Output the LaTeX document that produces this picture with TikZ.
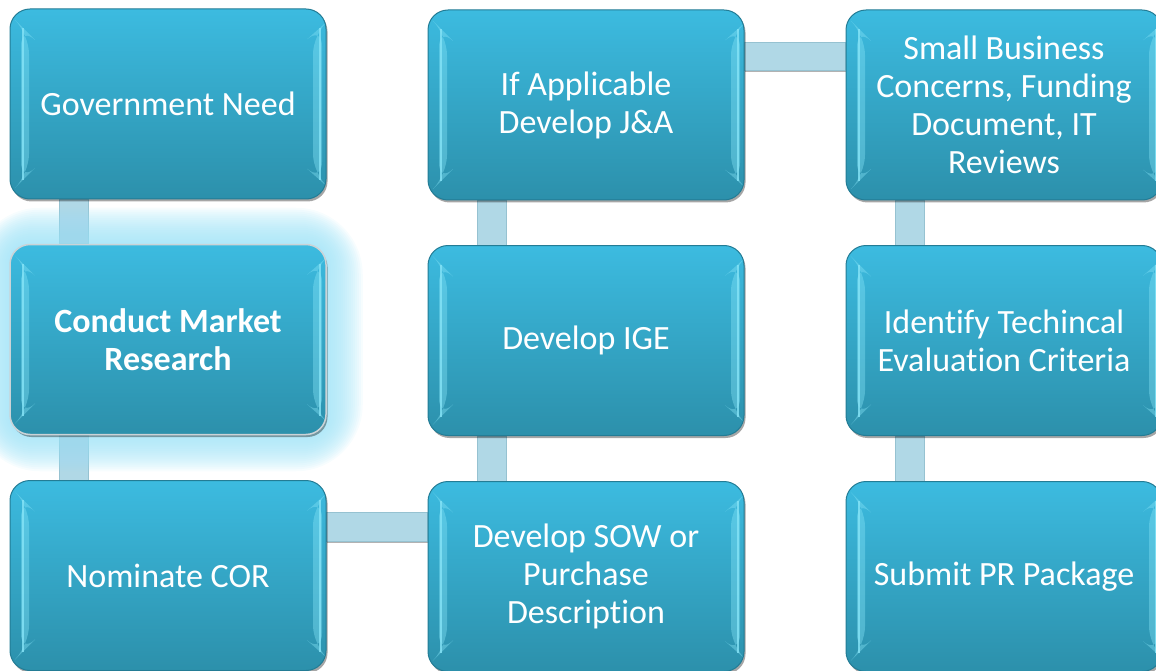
\documentclass[tikz,border=0pt]{standalone}
\usepackage{fontspec}
\setmainfont[Ligatures=NoCommon]{Carlito}
\usetikzlibrary{shadows,calc,backgrounds}
\pgfdeclarelayer{glowlayer}
\pgfsetlayers{background,glowlayer,main}
\definecolor{boxtop}{HTML}{3CBBE0}
\definecolor{boxbot}{HTML}{2C90AB}
\definecolor{boxedge}{HTML}{237C95}
\definecolor{bevel}{HTML}{86E4F7}
\definecolor{connfill}{HTML}{B0D8E6}
\definecolor{connedge}{HTML}{96C2D1}
\definecolor{glowc}{HTML}{9FE3F7}
\definecolor{hiedge}{HTML}{CBD3D7}
\tikzset{
  box/.style={rectangle, rounded corners=20pt, minimum width=316pt, minimum height=190pt,
    inner sep=0pt, align=center, top color=boxtop, bottom color=boxbot,
    draw=boxedge, line width=1pt, text=white,
    font=\fontsize{34pt}{38pt}\selectfont,
    drop shadow={shadow xshift=1.5pt, shadow yshift=-2.5pt, opacity=0.35, fill=black},
    path picture={
      \fill[bevel, opacity=0.4]
        ($(path picture bounding box.north west)+(11pt,-17pt)$) --
        ($(path picture bounding box.north west)+(19pt,-25pt)$) --
        ($(path picture bounding box.south west)+(19pt,25pt)$) --
        ($(path picture bounding box.south west)+(11pt,17pt)$) -- cycle;
      \draw[bevel, line width=1.2pt, opacity=0.8]
        ($(path picture bounding box.north west)+(13pt,-19pt)$) --
        ($(path picture bounding box.south west)+(13pt,19pt)$);
      \fill[bevel, opacity=0.4]
        ($(path picture bounding box.north east)+(-4pt,-17pt)$) --
        ($(path picture bounding box.north east)+(-13pt,-25pt)$) --
        ($(path picture bounding box.south east)+(-13pt,25pt)$) --
        ($(path picture bounding box.south east)+(-4pt,17pt)$) -- cycle;
      \draw[bevel, line width=1.2pt, opacity=0.8]
        ($(path picture bounding box.north east)+(-6pt,-19pt)$) --
        ($(path picture bounding box.south east)+(-6pt,19pt)$);
    }},
  hibox/.style={box, draw=hiedge, line width=1.5pt,
    font=\fontsize{34pt}{38pt}\selectfont\bfseries},
  connector/.style={fill=connfill, draw=connedge, line width=0.6pt,
    drop shadow={shadow xshift=0pt, shadow yshift=-2pt, opacity=0.3, fill=black}}
}
\begin{document}
\begin{tikzpicture}[x=1pt,y=-1pt]
\useasboundingbox (0,0) rectangle (1156,671);
\node[box] (gov) at (168,104) {Government Need};
\node[hibox] (cmr) at (168,339.5) {Conduct Market\\Research};
\node[box] (cor) at (168,575.5) {Nominate COR};
\node[box] (ja) at (586,105) {If Applicable\\Develop J\&A};
\node[box] (ige) at (586,340.5) {Develop IGE};
\node[box] (sow) at (586,576.5) {Develop SOW or\\Purchase\\Description};
\node[box] (sbc) at (1004,105) {Small Business\\Concerns, Funding\\Document, IT\\Reviews};
\node[box] (tec) at (1004,340.5) {Identify Techincal\\Evaluation Criteria};
\node[box] (spr) at (1004,576.5) {Submit PR Package};
\begin{scope}[on background layer]
  \path[connector] ($(gov.south west)+(50pt,0pt)$) rectangle ($(cmr.north west)+(79pt,0pt)$);
  \path[connector] ($(cmr.south west)+(50pt,0pt)$) rectangle ($(cor.north west)+(79pt,0pt)$);
  \path[connector] ($(cor.north east)+(0pt,-32pt)$) rectangle ($(sow.north west)+(0pt,-60pt)$);
  \path[connector] ($(sow.north west)+(50pt,0pt)$) rectangle ($(ige.south west)+(79pt,0pt)$);
  \path[connector] ($(ige.north west)+(50pt,0pt)$) rectangle ($(ja.south west)+(79pt,0pt)$);
  \path[connector] ($(ja.north east)+(0pt,-33pt)$) rectangle ($(sbc.north west)+(0pt,-61pt)$);
  \path[connector] ($(sbc.south west)+(50pt,0pt)$) rectangle ($(tec.north west)+(79pt,0pt)$);
  \path[connector] ($(tec.south west)+(50pt,0pt)$) rectangle ($(spr.north west)+(79pt,0pt)$);
\end{scope}
\begin{pgfonlayer}{glowlayer}
  \foreach \d in {2,4,...,36} {
    \pgfmathsetmacro\rr{20+1.3*\d}
    \fill[glowc, opacity=0.085, rounded corners=\rr pt]
      ($(cmr.north west)+(-\d pt,\d pt)$) rectangle ($(cmr.south east)+(\d pt,-\d pt)$);
  }
\end{pgfonlayer}
\end{tikzpicture}
\end{document}
